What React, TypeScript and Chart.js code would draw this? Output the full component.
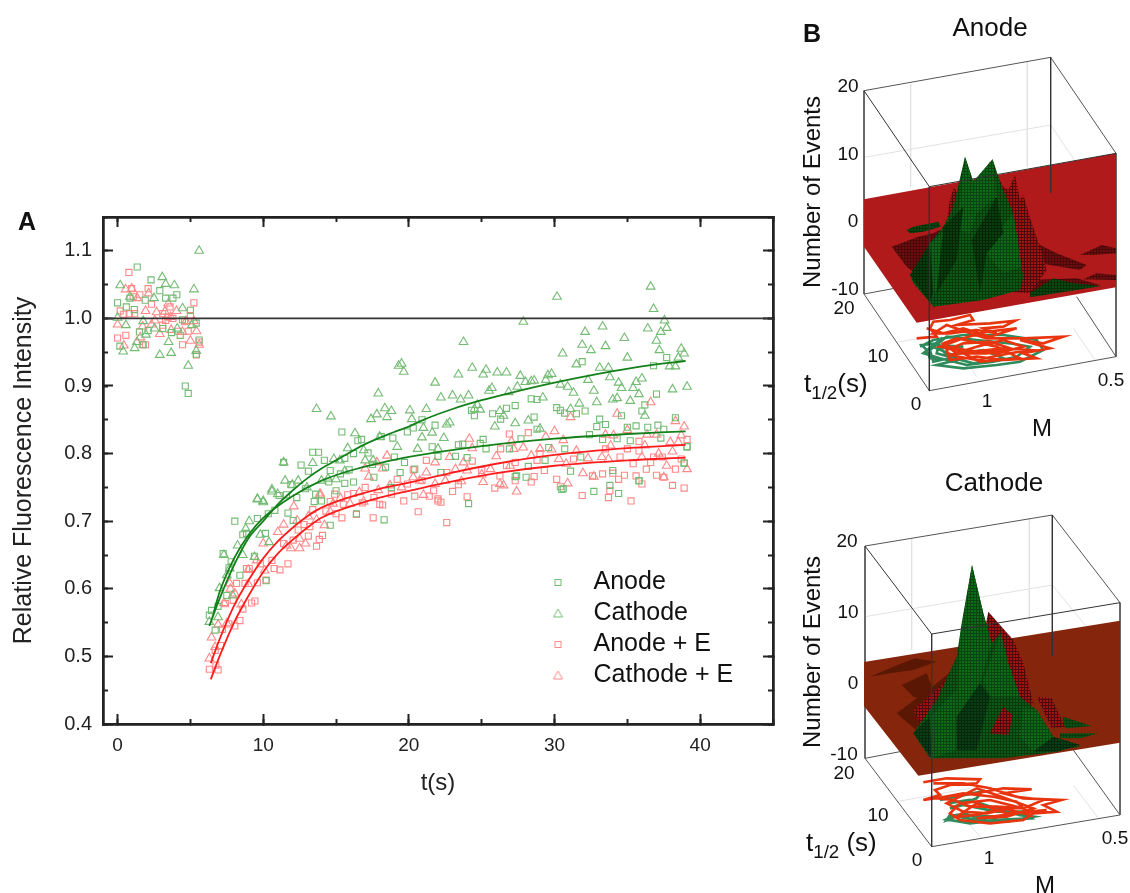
import React, { useEffect, useRef } from "react";
import { Chart, registerables } from "chart.js";

Chart.register(...registerables);

type P = [number, number];

const anodeGreen: P[] = [
  [0,1.023],[1.35,1.076],[2.3,1.057],[2.9,1.041],[3.3,1.03],[3.8,1.03],[4.07,1.035],[1.9,1.027],[.6,1.017],[1.15,1.013],[5,1.012],[.16,.959],[1.5,.98],[2.1,.982],[3.1,.985],[3.7,.979],[4.3,.975],[4.45,.998],[5.4,.993],[5.6,.968],[4.65,.9],[4.85,.889],[5.4,.947],[1.76,.961],[.85,1.03],
  [8.05,.7],[9.6,.704],[8.6,.68],[8.85,.682],[10.15,.682],[7.25,.652],[7.8,.64],[7.65,.631],[8.4,.62],[9.4,.648],[10.2,.612],[7.5,.59],[6.9,.574],[6.45,.568],[6.3,.561],[6.7,.539],[10.8,.716],[10.35,.711],[11.7,.712],[12.06,.701],[13.5,.729],[14.6,.694],[18.3,.702],[16.4,.711],[16.2,.758],[14.5,.758],[15.6,.756],
  [11.4,.787],[11.9,.754],[12.6,.783],[13.1,.774],[13.4,.802],[13.8,.802],[14.2,.79],[14.6,.775],[15.3,.77],[15.6,.793],[15.9,.776],[16.2,.8],[16.5,.819],[16.75,.821],[15.4,.832],[17.2,.801],[17.5,.784],[18.1,.825],[18.9,.823],[18.4,.78],[19,.795],[12.3,.735],[11.1,.738],[11.6,.739],[12.9,.748],[13.6,.74],[14,.73],[15,.745],[17.6,.765],[19.4,.772],[18.8,.75],
  [24.1,.726],[32.7,.744],[33.8,.753],[34.4,.741],[30.5,.747],[31.1,.774],[35.8,.76],[27.4,.767],[28.05,.765],[39.1,.81],[38.9,.786],[37.7,.942],[36.8,.93],[31.9,.936],[37,.888],[36.2,.872],[36,.863],[34.6,.856],[32.1,.863],[31.5,.859],[30.7,.86],[30.15,.868],[30.4,.864],[28.4,.881],[28.8,.88],[27.3,.871],[26.7,.867],[25.75,.859],[26.3,.851],[24.5,.856],[24.3,.864],[28.6,.854],[33.1,.851],[32.9,.84],[33.5,.843],[38.3,.853],[37.1,.842],[36.4,.839],[35.6,.841],[35,.839],[37.5,.836],[32.4,.828],[33.3,.821],[34.3,.822],[35.2,.819],[37.3,.823],[28.8,.836],[27.7,.822],[25.1,.821],[24.9,.815],[23.7,.814],[23.4,.813],[25.3,.807],[26.9,.807],[29.6,.809],[30.7,.807],[20.9,.85],[20.3,.838],[21.8,.842],[19.9,.832],[21.6,.81],[22,.796],[23.2,.796],[24,.794],[19.7,.787],[20.4,.777],[22.2,.772],[27.3,.766],[28.2,.781],[29.35,.79],[31.8,.795],[39.1,.81],[38.9,.786],[35.8,.76],[34,.775],[30.6,.748],
];

const cathodeGreen: P[] = [
  [.18,1.049],[3.07,1.061],[3.3,1.051],[3.9,1.049],[5.24,1.043],[5.6,1.1],[2.5,1.03],[.85,1.032],[4.46,1.015],[0,1.001],[.57,.99],[1.76,.996],[1.95,.976],[2.54,.985],[.39,.951],[1.17,.956],[1.33,.965],[2.9,.946],[3.68,.949],[3.5,.965],[4.85,.93],[5.4,.952],[4.1,.985],[5.1,.99],
  [27.86,.995],[30.17,1.032],[36.6,1.047],[36.8,1.014],[37.55,.997],[37.7,.986],[36.4,.985],[37.3,.98],[37,.967],[37.2,.953],[38.7,.955],[38.9,.948],[38.5,.942],[37.9,.929],[38.3,.929],[39.1,.899],[38.1,.895],[32.1,.98],[33.3,.988],[34.8,.971],[31.9,.961],[33.5,.959],[32.5,.953],[35,.942],[30.56,.948],[31.5,.932],[33.1,.927],[33.7,.927],[32.3,.909],[33.8,.913],[34.4,.905],[35.6,.906],[36,.911],[34.6,.897],[35.4,.897],[35.8,.888],[32.7,.893],[34,.88],[34.3,.882],[35.2,.878],[32.9,.876],[31.7,.874],[36.2,.856],[31.1,.866],[30.9,.899],[31.3,.89],[30.4,.902],[29.8,.918],[29.55,.916],[29.4,.909],[28.6,.908],[28.4,.907],[28,.906],[27.65,.915],[27.45,.899],[26.85,.891],[29.2,.883],[26.7,.92],[26.07,.92],[25.3,.924],[25.1,.917],[24.35,.927],[23.4,.917],[23.75,.965],[21.8,.905],[25.7,.897],[25.5,.893],[24.1,.886],[23,.886],[23.55,.88],[22.2,.883],[24.7,.872],[24.9,.865],[24.5,.866],[21.2,.866],[20.07,.864],[20.2,.851],[22.8,.846],[22.6,.843],[27.3,.845],[28.2,.849],[26.5,.856],[26.25,.863],[25.9,.84],[29,.837],[21.6,.831],[21,.838],[22.4,.823],[20.9,.824],[19.5,.933],[19.65,.921],[20.6,.807],[22,.807],
  [13.66,.866],[14.65,.855],[17.9,.889],[18.35,.867],[17.4,.851],[17.8,.858],[18.5,.854],[18.8,.863],[19.3,.93],[15.8,.808],[14.85,.792],[15.26,.79],[13.4,.786],[11.4,.787],[17,.79],[17.55,.79],[10.6,.744],[9.6,.732],[10,.728],[12,.754],[14.45,.763],[15.6,.774],[15,.762],[16.3,.83],[16.9,.805],[18,.825],[19.2,.81],
  [10.6,.747],[9.6,.733],[10,.73],[9.04,.7],[8.8,.689],[8.24,.664],[7.3,.65],[7.7,.63],[7.5,.62],[7,.601],[6.9,.558],[6.3,.551],[9.4,.647],[8.6,.65],[10.4,.669],[9.8,.68],[7.9,.59],[11,.74],[11.5,.76],[12.4,.76],[13,.75],[14,.76],
];

const anodeRed: P[] = [
  [.78,1.068],[.18,1.011],[.43,1.006],[.8,1.007],[1.17,1.007],[1.07,1.032],[.96,1.044],[1.53,1.035],[2.1,1.044],[2.33,1.021],[0,.971],[.57,.975],[1.7,.961],[1.92,.961],[3.1,1.007],[3.1,.99],[3.3,.997],[3.8,1],[3.45,1.002],[4.16,.981],[4.46,.961],[4.85,.981],[5,1.004],[5.24,1.023],[5.42,.946],[5.6,.965],[4.6,.995],[3.6,1.017],
  [6.3,.481],[6.9,.48],[6.75,.487],[7.07,.516],[6.7,.509],[8.4,.553],[8.05,.545],[7.2,.54],[7.65,.548],[8.6,.57],[9.2,.579],[9.43,.582],[9.6,.609],[10.2,.613],[8.85,.63],[9.04,.63],[10.75,.63],[11.15,.628],[11.7,.637],[10.6,.642],[13.66,.663],[13.85,.673],[14.07,.679],[13.1,.678],[17.55,.705],[16.4,.71],[15.4,.705],[18,.725],[18.2,.724],[12.4,.687],[12.06,.672],[13.4,.717],[15,.711],[16.2,.741],[15.8,.739],[14.6,.729],[13.2,.692],[9.8,.637],[8.75,.608],[8.17,.608],[7.4,.578],[7.94,.583],[11.4,.667],
  [26.9,.829],[28.2,.831],[26.3,.807],[24.35,.789],[21.2,.79],[20.3,.776],[29,.8],[28.8,.79],[27.3,.787],[31.3,.792],[33.5,.807],[35,.807],[35.8,.818],[35.8,.804],[36.8,.795],[37.4,.795],[38.7,.792],[39.1,.821],[35.4,.785],[36.6,.787],[36.3,.777],[38.3,.777],[34.5,.795],[33.3,.77],[34,.771],[34.8,.768],[35.6,.767],[34.4,.762],[37,.768],[37.5,.765],[36,.755],[38.1,.753],[38.9,.749],[30.15,.762],[30.4,.751],[31.9,.738],[33.7,.735],[33.8,.745],[35.25,.73],[32.6,.767],[29.3,.775],[28.6,.766],[28.4,.758],[27.3,.76],[25.9,.749],[26.25,.767],[24,.736],[23,.744],[23.4,.754],[22,.733],[21.7,.745],[25,.775],[26.7,.782],[22.6,.772],
  [22.6,.698],[20.64,.714],[22.2,.728],[22,.73],[21.4,.737],[20.4,.737],[19.65,.73],[18.8,.74],[19.2,.762],[19.9,.755],[20.9,.76],[17,.75],[17.6,.735],[16.8,.727],[14.9,.74],[15.5,.725],[12.8,.695],[14.3,.715],
];

const cathodeRed: P[] = [
  [0,.991],[.55,1.043],[.98,1.044],[1.35,1.03],[2.13,1.037],[3.48,1.022],[1.92,1.011],[2.68,1.009],[3.25,1.01],[4.05,1.011],[3.64,1.002],[1.72,.988],[2.33,.991],[2.56,.997],[2.9,.977],[3.68,.983],[4.46,.98],[5.42,.981],[4.7,.996],[5.24,.996],[.43,.96],[1.56,.972],[5,.967],[5.6,.961],
  [6.3,.497],[6.45,.528],[6.7,.514],[6.9,.547],[7.5,.549],[7.3,.579],[7.75,.6],[7.7,.608],[8.05,.593],[8.5,.577],[8.97,.607],[8.97,.628],[9.55,.642],[10,.667],[10.1,.627],[11,.684],[11.4,.695],[12.1,.722],[13.9,.741],[12.33,.701],[13.66,.702],[13.1,.707],[14.2,.694],[11.9,.66],[12.5,.66],[12.9,.667],[11.6,.664],[12.5,.674],[14.8,.726],[14.6,.714],[15.3,.734],[15.95,.726],[16.6,.743],[16.9,.729],[17.9,.746],[18.7,.753],
  [18.5,.797],[17.8,.787],[13.9,.738],[17,.778],[17.25,.766],[18.2,.778],
  [24.15,.822],[24.35,.808],[22.8,.795],[21.8,.787],[21.2,.772],[20.3,.765],[19.5,.75],[30,.833],[29.4,.825],[30.6,.82],[29,.807],[27.85,.809],[27.2,.807],[27.05,.818],[28.4,.797],[29.8,.806],[31.5,.804],[30.3,.792],[30.8,.785],[31.1,.854],[34.3,.859],[36.6,.876],[38.3,.848],[38.9,.84],[35,.835],[33.5,.828],[34.05,.827],[37,.828],[36.35,.828],[38.7,.827],[37.95,.817],[38.5,.817],[33.85,.812],[36.2,.812],[36,.795],[38.1,.803],[37.15,.8],[33.7,.792],[33.25,.795],[32.3,.793],[31.95,.771],[32.7,.766],[30.9,.756],[37.7,.782],[37.5,.765],[39.1,.777],[27.4,.744],[26.5,.753],[25.1,.758],[26.25,.755],[23.75,.787],[23.2,.777],[25.6,.777],[26.95,.782],[26,.796],[24,.775],[22.5,.76],[21,.739],[20.75,.76],[23.6,.759],[25,.769],[21.8,.755],
];

const fitCathode: P[] = [[6.3,.545],[7,.585],[8,.635],[9,.675],[10,.7],[11,.725],[12,.745],[13,.763],[14,.778],[15,.79],[17,.814],[19,.832],[20,.84],[21,.85],[23,.866],[25,.879],[27,.89],[30,.905],[33,.918],[36,.929],[39,.937]];
const fitAnode: P[] = [[6.6,.565],[7,.595],[8,.645],[9,.68],[10,.705],[12,.737],[14,.76],[16,.775],[18,.786],[20,.795],[25,.811],[30,.822],[35,.829],[39,.833]];
const fitCathodeE: P[] = [[6.4,.49],[7,.525],[8,.575],[9,.613],[10,.645],[11,.67],[12,.69],[13,.707],[14,.72],[16,.736],[18,.748],[20,.757],[23,.772],[26,.785],[30,.798],[35,.808],[39,.813]];
const fitAnodeE: P[] = [[6.4,.466],[7,.5],[8,.55],[9,.59],[10,.625],[11,.652],[12,.672],[13,.69],[14,.705],[16,.722],[18,.735],[20,.745],[23,.759],[26,.771],[30,.782],[35,.79],[39,.794]];
const baseline: P[] = [[-1,1],[45,1]];

// Panel B: projected surfaces, in view-plane units of each 3D plot
const anodeBackLines: P[][] = [
  [[222,882],[330,862]],[[860,890],[978,1070]],
  [[222,272],[782,172]],[[782,172],[978,460]],[[222,272],[222,882]],[[978,460],[978,1070]],
  [[222,882],[418,1172]],[[418,1172],[978,1070]],
];
const anodeFaint: P[][] = [[[362,252],[362,560]],[[712,185],[712,500]],[[222,472],[782,375]],[[782,375],[880,520]],[[320,1027],[560,985]],[[560,1130],[500,1040]],[[915,1080],[850,985]]];
const anodeFront: P[][] = [[[418,560],[418,1172]],[[222,272],[418,560]],[[418,560],[978,460]],[[782,172],[782,578]]];
const anodePlane: P[] = [[222,598],[978,460],[978,862],[380,968],[222,740]];
const anodeRedBack: P[] = [[480,600],[492,560],[520,620],[600,485],[640,560],[655,570],[675,525],[690,600],[700,585],[722,660],[750,740],[770,810],[720,880],[440,860]];
const anodeRedLow: P[][] = [
  [[305,740],[385,710],[430,700],[450,690],[440,850],[400,840],[350,800]],
  [[740,730],[800,760],[890,795],[870,810],[750,790]],
  [[870,765],[935,735],[978,745],[978,760],[910,765]],
  [[880,838],[920,820],[978,825],[978,840]],
  [[720,840],[860,835],[930,855],[850,860],[720,880]],
];
const anodeGreenMain: P[] = [[360,825],[420,730],[460,680],[490,620],[525,470],[550,545],[608,478],[635,560],[670,640],[695,800],[700,830],[690,870],[580,900],[430,920],[418,905],[370,850]];
const anodeGreenFacets: P[][] = [
  [[420,730],[480,680],[470,800],[430,890],[380,850]],
  [[525,470],[550,545],[540,700],[500,690]],
  [[550,545],[608,478],[620,590],[560,640],[540,700]],
  [[620,700],[670,640],[695,800],[640,820],[590,760]],
];
const anodeGreenDark: P[][] = [
  [[360,825],[420,730],[430,880],[418,905]],
  [[460,680],[520,620],[500,780],[440,880]],
  [[545,720],[620,590],[640,700],[590,760],[570,880]],
];
const anodeGreenLow: P[][] = [
  [[350,690],[370,680],[445,665],[452,680],[400,695],[360,700]],
  [[720,880],[790,835],[850,850],[935,858],[860,870],[720,892]],
];
const anodeContourGreen: P[] = [[390,1040],[430,1020],[520,1005],[640,1005],[740,1020],[760,1050],[690,1085],[620,1095],[520,1105],[440,1095],[500,1080],[420,1075],[410,1050],[395,1035],[440,1030],[470,1065],[580,1050],[640,1075],[550,1090],[440,1060],[450,1020],[400,1060],[450,1075],[530,1095],[610,1085],[680,1070],[720,1040],[660,1030],[560,1020],[470,1010],[420,1050],[430,1085],[500,1070],[440,1045],[520,1040],[430,1035]];
const anodeContourRed: P[] = [[380,1015],[440,1010],[420,985],[430,965],[480,960],[540,945],[550,960],[500,975],[600,970],[675,962],[640,980],[580,985],[620,1000],[560,990],[480,1000],[430,1000],[470,975],[540,1000],[590,1015],[700,1015],[820,1010],[760,1030],[690,1020],[780,1045],[700,1060],[740,1075],[640,1080],[560,1070],[480,1080],[470,1050],[520,1030],[600,1025],[660,1045],[590,1060],[500,1060],[460,1030],[500,1015],[620,1040],[690,1075],[570,1085],[480,1040],[550,1055],[640,1045],[720,1050],[660,1060],[560,1080],[480,1065],[560,1040],[640,1020],[700,1040],[620,1060],[520,1050],[450,1040],[520,1015],[590,995],[680,985],[600,1010],[520,985],[460,1000],[410,985]];

const cathodeBackLines: P[][] = [
  [[225,925],[330,905]],[[850,900],[990,1095]],
  [[225,288],[787,195]],[[787,195],[990,458]],[[225,288],[225,925]],[[990,458],[990,1095]],
  [[225,925],[425,1190]],[[425,1190],[990,1095]],
];
const cathodeFaint: P[][] = [[[365,268],[365,600]],[[718,205],[718,510]],[[225,500],[787,405]],[[787,405],[885,525]],[[320,1055],[540,1015]],[[575,1165],[510,1090]],[[925,1105],[850,1005]]];
const cathodeFront: P[][] = [[[425,552],[425,1190]],[[225,288],[425,552]],[[425,552],[990,458]],[[787,195],[787,618]]];
const cathodePlane: P[] = [[222,636],[990,512],[990,878],[385,977],[222,768]];
const cathodeDark: P[][] = [
  [[335,705],[410,670],[445,760],[370,740]],
  [[240,680],[310,650],[375,625],[440,635],[370,660],[300,670]],
  [[320,790],[440,700],[500,650],[470,760],[390,850]],
];
const cathodeRedBack: P[] = [[595,485],[670,570],[700,640],[730,760],[640,850],[540,760]];
const cathodeRedRight: P[] = [[740,740],[785,745],[825,830],[785,835]];
const cathodeRedLeft: P[] = [[370,780],[440,720],[500,650],[480,760],[400,840]];
const cathodeGreenMain: P[] = [[370,850],[440,750],[500,620],[515,520],[546,345],[580,490],[605,580],[632,548],[655,640],[690,740],[740,780],[790,860],[870,885],[800,905],[640,925],[420,925]];
const cathodeGreenFacets: P[][] = [
  [[546,345],[580,490],[605,580],[570,700],[500,800],[510,560]],
  [[632,548],[655,640],[690,740],[600,740],[580,690]],
  [[420,800],[500,720],[500,900],[425,925],[375,850]],
  [[700,770],[740,780],[790,860],[730,905],[690,860]],
];
const cathodeGreenDark: P[][] = [
  [[370,850],[420,800],[425,925]],
  [[730,905],[790,860],[870,885],[800,905]],
  [[500,800],[570,700],[600,740],[560,900],[500,900]],
];
const cathodeRedPatch: P[] = [[600,850],[640,770],[668,795],[655,855]];
const cathodeGreenLow: P[][] = [
  [[820,800],[905,828],[830,835],[820,825]],
  [[810,850],[925,850],[870,865],[810,865]],
  [[730,905],[790,865],[870,890],[800,900]],
];
const cathodeContourGreen: P[] = [[450,1050],[500,1040],[575,1025],[560,1045],[480,1075],[520,1065],[620,1085],[700,1085],[725,1105],[620,1110],[540,1120],[470,1108],[500,1095],[620,1100],[600,1115],[520,1090],[470,1110],[480,1095],[560,1110],[650,1115],[730,1100],[690,1095],[600,1070],[540,1050],[470,1060]];
const cathodeContourRed: P[] = [[400,997],[470,985],[570,988],[560,1000],[480,1005],[435,1020],[450,1035],[400,1050],[470,1040],[560,1030],[640,1015],[725,1018],[640,1030],[700,1045],[815,1050],[760,1065],[800,1085],[730,1090],[700,1110],[600,1120],[510,1110],[480,1090],[510,1060],[600,1050],[680,1070],[590,1090],[520,1085],[470,1060],[560,1015],[620,1035],[730,1075],[650,1100],[560,1105],[770,1080],[650,1090],[560,1060],[500,1100],[560,1095],[640,1075],[720,1095],[680,1055],[610,1040],[520,1030],[440,1045],[490,1050],[540,1070],[620,1070],[700,1075],[760,1050],[680,1040],[600,1015],[520,1000],[430,1000]];

const FONT = '"Liberation Sans", Arial, sans-serif';
const toXY = (a: P[]) => a.map(([x, y]) => ({ x, y }));

function axisBase(id: string, position: string, min: number, max: number, step: number, len: number, weight: number) {
  const horizontal = position === "top" || position === "bottom";
  return {
    type: "linear", position, min, max, weight,
    axis: id[0],
    ticks: { display: false, stepSize: step, includeBounds: false, autoSkip: false },
    grid: { drawOnChartArea: false, drawTicks: true, tickLength: -len, tickColor: "#222", tickWidth: 2 },
    border: { display: true, color: "#222", width: 2.5 },
    afterFit: (s: any) => {
      if (horizontal) s.height = 0; else s.width = 0;
      s.paddingTop = 0; s.paddingBottom = 0; s.paddingLeft = 0; s.paddingRight = 0;
    },
  };
}

const legendPlugin = {
  id: "placeLegend",
  afterLayout(chart: any) {
    const l = chart.legend;
    if (!l) return;
    l.left = 529; l.right = 770; l.top = 364; l.bottom = 615; l.width = 241; l.height = 251;
  },
};

function legendMark(style: string, color: string): HTMLCanvasElement {
  const c = document.createElement("canvas");
  c.width = 11; c.height = 11;
  const g = c.getContext("2d")!;
  g.strokeStyle = color; g.lineWidth = 1;
  if (style === "rect") g.strokeRect(2.5, 2.5, 6, 6);
  else {
    g.beginPath(); g.moveTo(5.5, 1); g.lineTo(10, 9); g.lineTo(1, 9); g.closePath(); g.stroke();
  }
  return c;
}

const legendStyles: Record<string, [string, string]> = {
  Anode: ["rect", "#74bb74"],
  Cathode: ["triangle", "#74bb74"],
  "Anode + E": ["rect", "#ff8888"],
  "Cathode + E": ["triangle", "#ff8888"],
};

function buildPanelA(canvas: HTMLCanvasElement) {
  const marker = (label: string, data: P[], color: string, style: string, r: number) => ({
    label, data: toXY(data), showLine: false, pointStyle: style, pointRadius: r, pointBorderWidth: 1.1,
    borderColor: color, backgroundColor: "rgba(0,0,0,0)", pointBackgroundColor: "rgba(0,0,0,0)", pointBorderColor: color, borderWidth: 1,
  });
  const curve = (data: P[], color: string, w = 1.8) => ({
    label: "", data: toXY(data), showLine: true, pointRadius: 0, borderColor: color, borderWidth: w, cubicInterpolationMode: "monotone", fill: false, order: -1,
  });
  const defaultLabels = (Chart.defaults as any).plugins.legend.labels.generateLabels;
  return new Chart(canvas, {
    type: "scatter",
    data: {
      datasets: [
        curve(baseline, "#333", 1.6), curve(fitCathode, "#14801a"), curve(fitAnode, "#14801a"), curve(fitCathodeE, "#ff1c1c"), curve(fitAnodeE, "#ff1c1c"),
        marker("Anode", anodeGreen, "#74bb74", "rect", 4.3),
        marker("Cathode", cathodeGreen, "#74bb74", "triangle", 5),
        marker("Anode + E", anodeRed, "#ff8888", "rect", 4.3),
        marker("Cathode + E", cathodeRed, "#ff8888", "triangle", 5),
      ] as any,
    },
    plugins: [legendPlugin],
    options: {
      responsive: false, animation: false,
      layout: { padding: { top: 17, right: 17, bottom: 22, left: 0 } },
      plugins: {
        tooltip: { enabled: false },
        legend: {
          position: "chartArea", align: "start",
          labels: {
            font: { family: FONT, size: 25 }, color: "#111", usePointStyle: true, boxHeight: 6, pointStyleWidth: 46, padding: 6,
            generateLabels: (chart: any) => defaultLabels(chart)
              .filter((i: any) => !!i.text)
              .map((i: any) => ({ ...i, pointStyle: legendMark(legendStyles[i.text][0], legendStyles[i.text][1]) })),
          },
        },
      },
      scales: {
        x: {
          ...axisBase("x", "bottom", -1, 45, 10, 10, 1),
          ticks: { display: true, stepSize: 10, includeBounds: false, autoSkip: false, padding: 20, maxRotation: 0, color: "#222", font: { family: FONT, size: 19 } },
          title: { display: true, text: "t(s)", color: "#222", font: { family: FONT, size: 24 }, padding: { top: 12, bottom: 0 } },
          afterFit: (s: any) => { s.height = 74; s.paddingLeft = 0; s.paddingRight = 0; },
        },
        xMinor: axisBase("x", "bottom", -1, 45, 5, 5, 0),
        xTop: axisBase("x", "top", -1, 45, 10, 10, 0),
        xTopMinor: axisBase("x", "top", -1, 45, 5, 5, 0),
        y: {
          ...axisBase("y", "left", 0.4, 1.15, 0.1, 10, 1),
          ticks: { display: true, stepSize: 0.1, includeBounds: false, autoSkip: false, padding: 21, color: "#222", font: { family: FONT, size: 20 }, callback: (v: any) => Number(v).toFixed(1) },
          title: { display: true, text: "Relative Fluorescence Intensity", color: "#222", font: { family: FONT, size: 25 }, padding: { top: 9, bottom: 0 } },
          afterFit: (s: any) => { s.width = 103; s.paddingTop = 0; s.paddingBottom = 0; },
        },
        yMinor: axisBase("y", "left", 0.4, 1.15, 0.05, 5, 0),
        yRight: axisBase("y", "right", 0.4, 1.15, 0.1, 10, 0),
        yRightMinor: axisBase("y", "right", 0.4, 1.15, 0.05, 5, 0),
      } as any,
    } as any,
  });
}

function mesh(base: string, dark: string, step: number): CanvasPattern {
  const c = document.createElement("canvas");
  c.width = step; c.height = step;
  const g = c.getContext("2d")!;
  g.fillStyle = base; g.fillRect(0, 0, step, step);
  g.fillStyle = dark; g.fillRect(0, 0, 1, step);
  g.fillRect(0, 0, step, 1);
  return g.createPattern(c, "repeat")!;
}

type Shape = { data: P[]; fill?: any; line?: string; width?: number };

function buildPanelB(canvas: HTMLCanvasElement, viewH: number, shapes: Shape[]) {
  const datasets = shapes.map((s, i) => {
    const pts = s.fill ? [...s.data, s.data[0]] : s.data;
    return {
      label: "", data: toXY(pts), showLine: true, pointRadius: 0, tension: 0, order: -i,
      fill: s.fill ? "shape" : false,
      backgroundColor: s.fill || "rgba(0,0,0,0)",
      borderColor: s.line || "rgba(0,0,0,0)",
      borderWidth: s.width ?? 0,
    };
  });
  return new Chart(canvas, {
    type: "scatter",
    data: { datasets } as any,
    options: {
      responsive: false, animation: false,
      layout: { padding: 0 },
      plugins: { legend: { display: false }, tooltip: { enabled: false } },
      scales: {
        x: { type: "linear", min: 0, max: 1020, display: false },
        y: { type: "linear", min: 0, max: viewH, reverse: true, display: false },
      },
    } as any,
  });
}

function lines(list: P[][], line: string, width: number): Shape[] {
  return list.map((data) => ({ data, line, width }));
}
function polys(list: P[][], fill: any): Shape[] {
  return list.map((data) => ({ data, fill }));
}

function anodeShapes(): Shape[] {
  const gA = mesh("#0d5a14", "#073a0b", 3), gB = mesh("#0a4a10", "#062f09", 3), gC = mesh("#0f6a18", "#094510", 3);
  const gD = mesh("#083f0c", "#042606", 3);
  const rA = mesh("#a01414", "#4e0a0a", 3), rD = mesh("#6e0f0f", "#4c0808", 3);
  return [
    ...lines(anodeFaint, "#e2e2e2", 1),
    ...lines(anodeBackLines, "#555", 1),
    { data: anodeContourGreen, line: "#2f8a5c", width: 2.6 },
    { data: anodeContourRed, line: "#e8350f", width: 2.6 },
    { data: anodePlane, fill: "#b01a1a" },
    ...polys(anodeRedLow, rD),
    { data: anodeRedBack, fill: rA },
    ...polys(anodeGreenLow, gB),
    { data: anodeGreenMain, fill: gA },
    ...polys(anodeGreenFacets, gC),
    ...polys(anodeGreenDark, gD),
    ...lines(anodeFront, "#333", 1),
  ];
}

function cathodeShapes(): Shape[] {
  const gA = mesh("#0d5a16", "#073a0c", 3), gC = mesh("#0f6a18", "#094510", 3), gB = mesh("#0c5216", "#073a0c", 3);
  const gD = mesh("#0a3f16", "#05280c", 3);
  const rA = mesh("#a01414", "#4e0a0a", 3);
  return [
    ...lines(cathodeFaint, "#e2e2e2", 1),
    ...lines(cathodeBackLines, "#555", 1),
    { data: cathodeContourGreen, line: "#2f8a5c", width: 2.8 },
    { data: cathodeContourRed, line: "#e8350f", width: 2.6 },
    { data: cathodePlane, fill: "#85260c" },
    ...polys(cathodeDark, "#5a1804"),
    { data: cathodeRedBack, fill: rA },
    { data: cathodeRedLeft, fill: rA },
    { data: cathodeRedRight, fill: rA },
    ...polys(cathodeGreenLow, gB),
    { data: cathodeGreenMain, fill: gA },
    ...polys(cathodeGreenFacets, gC),
    ...polys(cathodeGreenDark, gD),
    { data: cathodeRedPatch, fill: rA },
    ...lines(cathodeFront, "#333", 1),
  ];
}

const Txt = ({ x, y, size, children, bold, rot, left }: any) => (
  <div style={{
    position: "absolute", left: x, top: y, whiteSpace: "nowrap", fontFamily: FONT, fontSize: size, color: "#111", lineHeight: 1,
    fontWeight: bold ? 700 : 400,
    transform: `translate(${left ? "0" : "-50%"},-50%)${rot ? ` rotate(${rot}deg)` : ""}`,
  }}>{children}</div>
);

const Half = () => <sub style={{ fontSize: "0.72em", lineHeight: 0, verticalAlign: "-0.35em" }}>1/2</sub>;

export default function App() {
  const a = useRef<HTMLCanvasElement>(null);
  const b = useRef<HTMLCanvasElement>(null);
  const c = useRef<HTMLCanvasElement>(null);
  useEffect(() => {
    const charts = [
      buildPanelA(a.current!),
      buildPanelB(b.current!, 1350, anodeShapes()),
      buildPanelB(c.current!, 1329, cathodeShapes()),
    ];
    return () => charts.forEach((ch) => ch.destroy());
  }, []);
  return (
    <div style={{ position: "absolute", left: 0, top: 0, width: 1130, height: 893, overflow: "hidden", background: "#fff" }}>
      <canvas ref={a} width={790} height={620} style={{ position: "absolute", left: 0, top: 200 }} />
      <canvas ref={b} width={340} height={450} style={{ position: "absolute", left: 790, top: 0 }} />
      <canvas ref={c} width={340} height={443} style={{ position: "absolute", left: 790, top: 450 }} />

      <Txt x={27} y={221} size={25} bold>A</Txt>
      <Txt x={812} y={33} size={25} bold>B</Txt>

      <Txt x={990} y={27} size={26}>Anode</Txt>
      <Txt x={812} y={192} size={24} rot={-90}>Number of Events</Txt>
      <Txt x={848} y={85} size={19}>20</Txt>
      <Txt x={848} y={153} size={19}>10</Txt>
      <Txt x={853} y={220} size={19}>0</Txt>
      <Txt x={845} y={288} size={19}>-10</Txt>
      <Txt x={844} y={307} size={19}>20</Txt>
      <Txt x={878} y={355} size={19}>10</Txt>
      <Txt x={916} y={403} size={19}>0</Txt>
      <Txt x={987} y={400} size={19}>1</Txt>
      <Txt x={1111} y={379} size={19}>0.5</Txt>
      <Txt x={804} y={383} size={26} left>t<Half />(s)</Txt>
      <Txt x={1042} y={428} size={24}>M</Txt>

      <Txt x={994} y={482} size={26}>Cathode</Txt>
      <Txt x={812} y={652} size={24} rot={-90}>Number of Events</Txt>
      <Txt x={847} y={540} size={19}>20</Txt>
      <Txt x={848} y={611} size={19}>10</Txt>
      <Txt x={853} y={682} size={19}>0</Txt>
      <Txt x={844} y={753} size={19}>-10</Txt>
      <Txt x={844} y={772} size={19}>20</Txt>
      <Txt x={878} y={814} size={19}>10</Txt>
      <Txt x={917} y={859} size={19}>0</Txt>
      <Txt x={989} y={857} size={19}>1</Txt>
      <Txt x={1115} y={837} size={19}>0.5</Txt>
      <Txt x={806} y={842} size={26} left>t<Half /> (s)</Txt>
      <Txt x={1045} y={885} size={24}>M</Txt>
    </div>
  );
}
